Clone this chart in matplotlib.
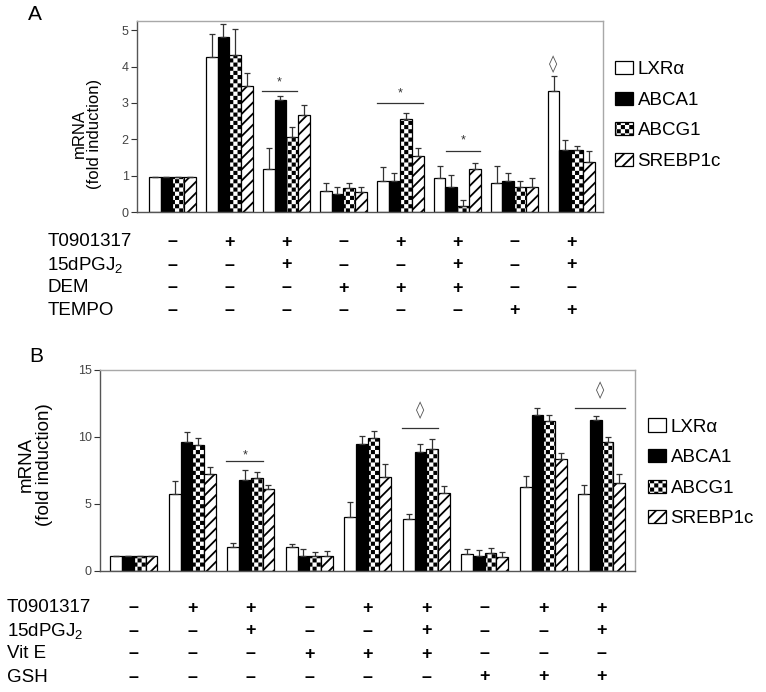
import numpy as np
import matplotlib
matplotlib.use("Agg")
import matplotlib.pyplot as plt
from matplotlib import hatch as mhatch
from matplotlib.path import Path
from matplotlib.patches import Patch
from matplotlib import transforms as mtrans
import warnings
warnings.filterwarnings("ignore")

plt.rcParams['font.family'] = ['Liberation Sans', 'DejaVu Sans']
plt.rcParams['mathtext.fontset'] = 'custom'
plt.rcParams['mathtext.rm'] = 'Liberation Sans'
plt.rcParams['mathtext.it'] = 'Liberation Sans:italic'
plt.rcParams['hatch.linewidth'] = 1.3

# ---------------- data ----------------
genes = ["LXR\u03b1", "ABCA1", "ABCG1", "SREBP1c"]

lxr_A = [0.97, 4.25, 1.17, 0.58, 0.85, 0.93, 0.80, 3.34]
lxr_A_err = [0, 0.63, 0.60, 0.22, 0.38, 0.34, 0.47, 0.40]
abca1_A = [0.97, 4.82, 3.08, 0.49, 0.85, 0.68, 0.85, 1.70]
abca1_A_err = [0, 0.36, 0.10, 0.21, 0.23, 0.35, 0.22, 0.28]
abcg1_A = [0.97, 4.31, 2.05, 0.65, 2.55, 0.17, 0.68, 1.70]
abcg1_A_err = [0, 0.71, 0.28, 0.15, 0.18, 0.16, 0.17, 0.11]
srebp_A = [0.97, 3.46, 2.66, 0.56, 1.54, 1.19, 0.68, 1.37]
srebp_A_err = [0, 0.35, 0.28, 0.12, 0.23, 0.17, 0.25, 0.31]

lxr_B = [1.15, 5.72, 1.77, 1.77, 4.05, 3.86, 1.24, 6.24, 5.72]
lxr_B_err = [0, 0.98, 0.34, 0.22, 1.12, 0.39, 0.40, 0.85, 0.67]
abca1_B = [1.15, 9.65, 6.79, 1.14, 9.48, 8.86, 1.14, 11.64, 11.27]
abca1_B_err = [0, 0.70, 0.75, 0.50, 0.62, 0.59, 0.40, 0.50, 0.30]
abcg1_B = [1.15, 9.40, 6.92, 1.14, 9.95, 9.08, 1.32, 11.19, 9.65]
abcg1_B_err = [0, 0.55, 0.47, 0.30, 0.52, 0.77, 0.37, 0.45, 0.37]
srebp_B = [1.15, 7.24, 6.09, 1.14, 6.99, 5.80, 1.02, 8.33, 6.59]
srebp_B_err = [0, 0.55, 0.30, 0.35, 0.97, 0.57, 0.37, 0.45, 0.62]

treat_A_names = ["T0901317", "15dPGJ$_2$", "DEM", "TEMPO"]
treat_A = [
    "-++-++-+",
    "--+--+-+",
    "---+++--",
    "------++",
]
treat_B_names = ["T0901317", "15dPGJ$_2$", "Vit E", "GSH"]
treat_B = [
    "-++-++-++",
    "--+--+--+",
    "---+++---",
    "------+++",
]

# significance marks: (group, line from, line to, line y, mark y, symbol)
sig_A = [
    (2, -0.43, 0.19, 3.33, 3.57, "*"),
    (4, -0.41, 0.40, 3.00, 3.27, "*"),
    (5, -0.19, 0.40, 1.68, 1.98, "*"),
]
diamond_A = [(7, -0.31, 4.06)]
sig_B = [
    (2, -0.42, 0.21, 8.23, 8.60, "*"),
]
diamond_B_lines = [
    (5, -0.41, 0.20, 10.65, 12.0),
    (8, -0.45, 0.40, 12.14, 13.5),
]

# ---------------- custom checker hatch ----------------
class CheckerHatch(mhatch.HatchPatternBase):
    frac = 0.55

    def __init__(self, hatch, density):
        self.n = hatch.count('O') * density
        if self.n % 2:
            self.n += 1
        if hatch.count('O') == 0:
            self.n = 0
        self.num_vertices = (self.n * self.n // 2) * 5 if self.n else 0

    def set_vertices_and_codes(self, vertices, codes):
        n = self.n
        c = 1.0 / n
        h = c * self.frac / 2
        vs, cs = [], []
        for i in range(n):
            for j in range(n):
                if (i + j) % 2 == 0:
                    cx, cy = (i + 0.5) * c, (j + 0.5) * c
                    vs.append([[cx - h, cy - h], [cx + h, cy - h],
                               [cx + h, cy + h], [cx - h, cy + h],
                               [cx - h, cy - h]])
                    cs.append([Path.MOVETO, Path.LINETO, Path.LINETO,
                               Path.LINETO, Path.CLOSEPOLY])
        vertices[:] = np.concatenate(vs)
        codes[:] = np.concatenate(cs)

    get_vertices_and_codes = set_vertices_and_codes

mhatch._hatch_types = [t for t in mhatch._hatch_types
                       if t.__name__ != 'LargeCircles'] + [CheckerHatch]

faces = ["white", "black", "white", "white"]
hatches = [None, None, "OOOO", "///"]

fig = plt.figure(figsize=(7.66, 6.92), dpi=100)

def panel(rect, series, errs, names, rows, width, xlim, ylim, yticks,
          label_x, row_ys, ylabel_size, ylabel_xy, letter, letter_xy,
          legend_xy):
    ax = fig.add_axes(rect)
    n = len(series[0])
    x = np.arange(n)
    for k, (vals, err) in enumerate(zip(series, errs)):
        pos = x + (k - 1.5) * width
        ax.bar(pos, vals, width=width, color=faces[k], edgecolor="black",
               linewidth=0.9, hatch=hatches[k], zorder=2)
        ax.errorbar(pos, vals, yerr=[np.zeros(n), err], fmt="none",
                    ecolor="#333333", elinewidth=0.9, capsize=2.2,
                    capthick=0.9, zorder=3)
    ax.set_xlim(*xlim)
    ax.set_ylim(*ylim)
    ax.set_yticks(yticks)
    ax.set_xticks([])
    ax.tick_params(axis="y", direction="out", length=4, width=0.8,
                   colors="#333333", labelsize=9, labelcolor="#444444", pad=2)
    for s in ["top", "right"]:
        ax.spines[s].set_color("#a8a8a8")
        ax.spines[s].set_linewidth(1.0)
    for s in ["left", "bottom"]:
        ax.spines[s].set_color("#555555")
        ax.spines[s].set_linewidth(1.0)
    ax.set_ylabel("mRNA\n(fold induction)", fontsize=ylabel_size,
                  linespacing=1.05)
    ax.yaxis.set_label_coords(*ylabel_xy)
    tr = mtrans.blended_transform_factory(ax.transData, fig.transFigure)
    for name, row, yy in zip(names, rows, row_ys):
        fig.text(label_x, yy, name, fontsize=13.5, ha="left", va="center")
        for i, ch in enumerate(row):
            sym = "+" if ch == "+" else "\u2013"
            ax.text(i, yy, sym, transform=tr, ha="center", va="center",
                    fontsize=13, fontweight="bold", clip_on=False)
    fig.text(letter_xy[0], letter_xy[1], letter, fontsize=15,
             ha="center", va="center")
    handles = [Patch(facecolor=faces[k], edgecolor="black", hatch=hatches[k],
                     linewidth=0.9) for k in range(4)]
    fig.legend(handles, genes, loc="center left",
               bbox_to_anchor=legend_xy, bbox_transform=fig.transFigure,
               frameon=False, fontsize=13.5, handlelength=0.95,
               handleheight=0.7, handletextpad=0.25, labelspacing=0.72,
               borderpad=0, borderaxespad=0)
    return ax

axA = panel([0.1789, 0.6936, 0.6084, 0.2760],
            [lxr_A, abca1_A, abcg1_A, srebp_A],
            [lxr_A_err, abca1_A_err, abcg1_A_err, srebp_A_err],
            treat_A_names, treat_A, 0.206, (-0.62, 7.56), (0, 5.25),
            [0, 1, 2, 3, 4, 5],
            0.062, [1 - 242 / 692, 1 - 265 / 692, 1 - 288 / 692, 1 - 311 / 692],
            12, (-0.075, 0.41), "A", (35 / 766, 1 - 15 / 692), (0.803, 0.833))

axB = panel([0.1305, 0.1749, 0.6985, 0.2905],
            [lxr_B, abca1_B, abcg1_B, srebp_B],
            [lxr_B_err, abca1_B_err, abcg1_B_err, srebp_B_err],
            treat_B_names, treat_B, 0.2, (-0.58, 8.57), (0, 15),
            [0, 5, 10, 15],
            0.009, [1 - 608 / 692, 1 - 631 / 692, 1 - 654 / 692, 1 - 677 / 692],
            13.5, (-0.088, 0.53), "B", (36 / 766, 1 - 357 / 692),
            (0.846, 0.3165))

def sig(ax, items):
    for g, a, b, ly, my, s in items:
        ax.plot([g + a, g + b], [ly, ly], color="#333333", lw=0.9,
                clip_on=False)
        ax.text(g + (a + b) / 2, my, s, ha="center", va="center",
                fontsize=9, color="#333333")

def diam(ax, g, off, y):
    ax.text(g + off, y, "\u25CA", ha="center", va="center", fontsize=12,
            color="#555555", family="DejaVu Sans")

sig(axA, sig_A)
for g, off, y in diamond_A:
    diam(axA, g, off, y)
sig(axB, sig_B)
for g, a, b, ly, dy in diamond_B_lines:
    axB.plot([g + a, g + b], [ly, ly], color="#333333", lw=0.9)
    diam(axB, g, (a + b) / 2, dy)

fig.savefig("out.png", dpi=100)
